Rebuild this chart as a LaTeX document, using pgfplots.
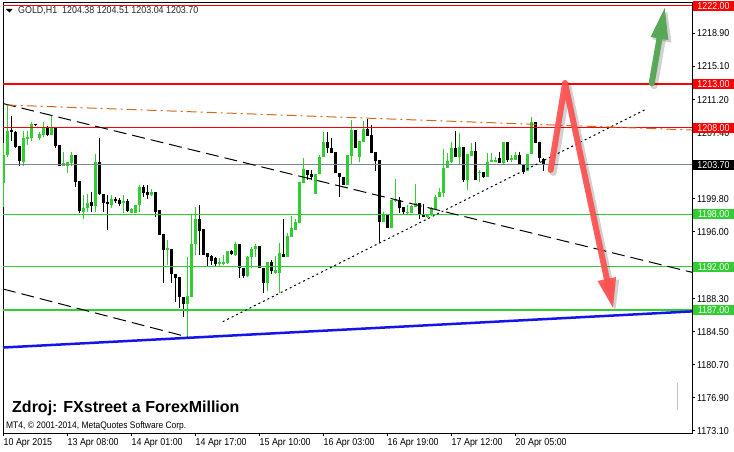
\documentclass[border=0pt]{standalone}
\usepackage{pgfplots}
\pgfplotsset{compat=1.18}
\usepackage{pgfplotstable}
\usepackage{fontspec}
\setmainfont{Liberation Sans}
\newfontfamily\mtfont{Liberation Sans}[FakeStretch=0.89]
\usetikzlibrary{arrows.meta}
\definecolor{mtgreen}{RGB}{50,205,50}
\definecolor{mtgray}{RGB}{119,136,153}
\definecolor{mtorange}{RGB}{210,105,30}
\definecolor{mtblue}{RGB}{20,20,235}
\definecolor{arrowred}{RGB}{255,80,80}
\definecolor{arrowgreen}{RGB}{88,168,88}
\definecolor{faint}{RGB}{176,196,222}

% bullish candles: k open high low close
\pgfplotstableread{
k o h l c
0 1201.63 1206.23 1198.87 1204.85
1 1204.85 1210.60 1204.62 1207.61
5 1204.05 1207.61 1203.59 1206.81
6 1206.69 1207.61 1206.00 1206.92
7 1206.81 1208.65 1206.46 1208.42
9 1206.81 1207.50 1206.58 1207.27
10 1207.15 1208.65 1206.92 1207.96
12 1207.15 1209.45 1207.15 1207.96
15 1203.59 1205.20 1203.59 1203.93
16 1203.59 1204.05 1202.78 1204.05
17 1203.93 1205.20 1203.59 1204.85
20 1198.30 1200.25 1197.49 1198.76
21 1198.76 1200.37 1198.30 1199.33
23 1198.99 1204.97 1198.30 1204.05
27 1199.10 1200.25 1198.76 1199.79
30 1199.33 1200.25 1198.18 1199.56
32 1198.18 1198.76 1198.18 1198.64
33 1198.18 1199.10 1198.18 1199.10
34 1199.10 1201.40 1198.30 1201.17
37 1200.25 1200.94 1200.14 1200.60
41 1193.93 1195.08 1192.20 1194.16
46 1187.71 1193.12 1183.90 1188.63
47 1188.52 1197.95 1188.52 1194.62
48 1194.62 1198.87 1193.35 1197.49
54 1192.32 1193.01 1191.97 1192.55
55 1192.32 1193.35 1192.20 1192.55
56 1192.43 1193.81 1192.32 1193.81
58 1193.35 1194.85 1193.24 1194.62
61 1190.94 1193.24 1190.82 1193.12
62 1193.12 1194.27 1191.86 1194.04
63 1194.04 1194.62 1193.12 1194.39
66 1190.13 1192.55 1189.21 1192.55
68 1191.28 1193.24 1191.17 1191.63
69 1191.28 1194.73 1188.98 1193.58
71 1193.12 1195.88 1193.12 1195.54
72 1195.42 1197.84 1195.42 1196.46
73 1196.23 1197.49 1196.23 1197.15
74 1197.03 1201.75 1197.03 1201.75
75 1201.63 1204.51 1201.63 1203.24
78 1200.37 1202.67 1200.37 1202.67
79 1202.67 1204.85 1202.67 1204.62
80 1204.62 1207.50 1204.62 1206.35
86 1201.40 1204.85 1201.40 1204.85
87 1204.74 1208.88 1203.82 1207.73
89 1204.62 1206.46 1204.05 1206.46
90 1206.35 1208.76 1206.35 1207.84
95 1197.15 1198.30 1197.15 1197.95
97 1196.46 1199.68 1196.46 1199.68
98 1199.56 1202.09 1199.45 1199.79
101 1198.18 1199.10 1197.95 1198.30
102 1198.18 1199.10 1198.18 1198.99
103 1198.87 1201.52 1198.87 1199.33
106 1197.72 1197.95 1197.61 1197.95
107 1197.95 1198.87 1197.84 1198.76
108 1198.64 1200.25 1198.64 1200.02
109 1200.02 1201.06 1200.02 1200.60
110 1200.48 1205.54 1200.02 1203.36
111 1203.36 1205.08 1203.36 1204.16
112 1204.05 1206.35 1203.93 1205.66
114 1204.62 1207.38 1203.70 1205.77
116 1201.98 1204.97 1200.83 1204.97
117 1204.74 1206.23 1204.74 1205.31
119 1202.78 1203.13 1201.75 1202.90
121 1202.32 1205.08 1202.32 1204.05
122 1204.05 1205.08 1204.05 1204.28
123 1204.05 1204.62 1204.05 1204.28
125 1203.93 1206.35 1203.70 1206.35
127 1204.28 1204.85 1204.05 1204.51
128 1204.28 1205.20 1204.28 1204.85
131 1203.01 1204.97 1203.01 1204.97
132 1204.97 1209.22 1204.97 1208.65
}\bull

% bearish candles: k open high low close
\pgfplotstableread{
k o h l c
2 1207.73 1209.34 1206.46 1207.50
3 1207.50 1207.61 1205.66 1205.77
4 1205.89 1205.89 1203.59 1204.16
8 1208.42 1208.42 1208.19 1208.30
11 1207.96 1208.19 1207.04 1207.15
13 1207.96 1207.96 1205.66 1205.89
14 1206.00 1206.00 1203.59 1203.59
18 1204.85 1204.85 1201.17 1201.75
19 1201.86 1201.86 1198.18 1198.41
22 1199.45 1200.60 1198.30 1198.99
24 1204.05 1206.81 1200.25 1200.37
25 1200.37 1200.37 1198.30 1199.33
26 1199.45 1200.25 1196.23 1199.22
28 1199.79 1200.02 1199.33 1199.56
29 1199.68 1199.91 1198.99 1199.22
31 1199.56 1199.79 1198.30 1198.41
35 1201.17 1201.40 1200.02 1200.48
36 1200.60 1201.40 1199.79 1200.25
38 1200.60 1200.60 1197.72 1198.30
39 1198.53 1198.53 1195.65 1195.65
40 1195.77 1195.77 1190.13 1193.93
42 1194.04 1194.04 1190.13 1191.17
43 1191.17 1191.17 1187.94 1190.71
44 1190.82 1190.82 1187.25 1188.52
45 1188.52 1188.52 1186.22 1187.71
49 1197.49 1199.10 1193.35 1196.11
50 1196.34 1196.34 1193.35 1193.35
51 1193.58 1193.58 1191.97 1193.12
52 1193.24 1193.35 1192.20 1192.66
53 1193.01 1193.12 1191.97 1192.32
57 1193.81 1193.93 1193.35 1193.47
59 1194.62 1194.62 1190.71 1191.86
60 1191.86 1191.86 1190.71 1190.94
64 1194.39 1194.39 1191.86 1191.86
65 1191.86 1191.86 1188.98 1190.13
67 1192.55 1192.78 1191.17 1191.51
70 1193.47 1197.49 1193.12 1193.12
76 1203.13 1203.13 1201.98 1202.55
77 1202.67 1203.13 1201.98 1202.32
81 1206.35 1207.50 1205.08 1205.66
82 1205.66 1206.81 1205.08 1205.08
83 1205.20 1205.20 1202.78 1202.78
84 1202.78 1202.78 1200.02 1202.32
85 1202.32 1202.32 1201.40 1201.40
88 1207.73 1207.73 1205.66 1205.66
91 1207.84 1208.99 1207.04 1207.04
92 1207.15 1208.30 1205.08 1205.08
93 1205.20 1205.20 1203.01 1204.16
94 1204.28 1204.28 1194.73 1197.15
96 1197.95 1197.95 1196.46 1196.46
99 1199.68 1200.02 1198.18 1198.76
100 1198.87 1198.87 1197.95 1198.30
104 1199.33 1199.33 1197.49 1197.95
105 1198.07 1199.22 1197.72 1197.72
113 1205.66 1207.61 1204.62 1204.62
115 1205.77 1205.77 1201.75 1201.98
118 1205.31 1206.35 1201.98 1201.98
120 1202.90 1202.90 1202.21 1202.32
124 1204.51 1205.20 1203.93 1203.93
126 1206.35 1206.35 1204.05 1204.28
129 1204.85 1205.20 1203.70 1203.70
130 1203.70 1203.70 1202.67 1202.90
133 1208.65 1208.65 1206.23 1206.23
134 1206.35 1206.35 1204.05 1204.51
135 1204.38 1204.51 1203.04 1203.70
}\bear

\tikzset{pricebox/.style={anchor=west, text=white, font=\mtfont\fontsize{10}{12}\selectfont,
  minimum width=41.3pt, minimum height=10pt, inner sep=0pt}}

\begin{document}
\begin{tikzpicture}
\path[use as bounding box] (-3pt,-18pt) rectangle (731pt,433pt);
\begin{axis}[
  at={(0pt,0pt)}, anchor=south west,
  scale only axis, width=689pt, height=431pt,
  xmin=-0.125, xmax=172.125, ymin=1172.84, ymax=1222.46,
  axis line style={line width=0.8pt, black},
  tick align=outside, major tick length=3pt,
  tick style={black, line width=0.8pt},
  xtick pos=left, ytick pos=right, yticklabel pos=right,
  xtick={0,16,32,48,64,80,96,112,128},
  xticklabels={10 Apr 2015,13 Apr 08:00,14 Apr 01:00,14 Apr 17:00,15 Apr 10:00,16 Apr 03:00,16 Apr 19:00,17 Apr 12:00,20 Apr 05:00},
  ytick={1173.1,1176.9,1180.7,1184.5,1188.3,1192.1,1196.0,1199.8,1203.6,1207.4,1211.2,1215.1,1218.9},
  yticklabels={1173.10,1176.90,1180.70,1184.50,1188.30,1192.10,1196.00,1199.80,1203.60,1207.40,1211.20,1215.10,1218.90},
  tick label style={font=\mtfont\fontsize{10}{12}\selectfont, text=black},
  xticklabel style={anchor=north west, inner sep=0pt, yshift=-2pt},
  yticklabel style={anchor=west, inner sep=0pt, xshift=2pt},
  /pgf/number format/assume math mode=true,
  candle/.style={draw=none, mark=none, error bars/.cd, y dir=minus, y explicit, error mark=none},
]
% wicks
\addplot[candle, error bar style={draw=mtgreen, line width=1pt}]
  table[x=k, y=h, y error minus expr=\thisrow{h}-\thisrow{l}] {\bull};
\addplot[candle, error bar style={draw=black, line width=1pt}]
  table[x=k, y=h, y error minus expr=\thisrow{h}-\thisrow{l}] {\bear};
% bodies
\addplot[candle, error bar style={draw=mtgreen, line width=3pt}]
  table[x=k, y=c, y error minus expr={max(\thisrow{c}-\thisrow{o},0.11)}] {\bull};
\addplot[candle, error bar style={draw=black, line width=3pt}]
  table[x=k, y=o, y error minus expr={max(\thisrow{o}-\thisrow{c},0.11)}] {\bear};

% horizontal levels
\addplot[red, line width=1pt] coordinates {(-0.125,1222) (172.125,1222)};
\addplot[red, line width=2pt] coordinates {(-0.125,1213) (172.125,1213)};
\addplot[red, line width=1pt] coordinates {(-0.125,1208) (172.125,1208)};
\addplot[mtgray, line width=1pt] coordinates {(-0.125,1203.70) (172.125,1203.70)};
\addplot[mtgreen, line width=1pt] coordinates {(-0.125,1198) (172.125,1198)};
\addplot[mtgreen, line width=1pt] coordinates {(-0.125,1192) (172.125,1192)};
\addplot[mtgreen, line width=2.2pt] coordinates {(-0.125,1187) (172.125,1187)};
% trend lines
\addplot[mtblue, line width=2.5pt] coordinates {(-0.125,1182.68) (172.125,1186.84)};
\addplot[black, line width=1pt, dash pattern=on 13pt off 6pt] coordinates {(-0.125,1210.77) (172.125,1191.34)};
\addplot[black, line width=1pt, dash pattern=on 13pt off 6pt] coordinates {(-0.125,1189.42) (46,1183.90)};
\addplot[black, line width=1pt, dash pattern=on 2pt off 3pt] coordinates {(54.8,1185.65) (160.6,1210.11)};
\addplot[mtorange, line width=1pt, dash pattern=on 10pt off 4pt on 2pt off 4pt] coordinates {(0.8,1210.60) (172.125,1207.72)};

% arrows
\addplot[black, opacity=0.18, line width=7pt, line join=round, line cap=round, xshift=2.5pt, yshift=-2.5pt,
  -{Triangle[length=31pt,width=18pt]}] coordinates {(136.8,1203.12) (140.4,1213.13) (152.45,1187.08)};
\addplot[arrowred, opacity=0.92, line width=6pt, line join=round, line cap=round,
  -{Triangle[length=31pt,width=17pt]}] coordinates {(136.8,1203.12) (140.4,1213.13) (152.45,1187.08)};
\addplot[black, opacity=0.18, line width=7pt, line cap=round, xshift=2.5pt, yshift=-2.5pt,
  -{Triangle[length=33pt,width=17pt]}] coordinates {(162.05,1213.1) (165.4,1222.0)};
\addplot[arrowgreen, line width=6pt, line cap=round,
  -{Triangle[length=33pt,width=16pt]}] coordinates {(162.05,1213.1) (165.4,1222.0)};

\coordinate (p1222) at (axis cs:172.125,1222);
\coordinate (p1213) at (axis cs:172.125,1213);
\coordinate (p1208) at (axis cs:172.125,1208);
\coordinate (p1203) at (axis cs:172.125,1203.70);
\coordinate (p1198) at (axis cs:172.125,1198);
\coordinate (p1192) at (axis cs:172.125,1192);
\coordinate (p1187) at (axis cs:172.125,1187);
\end{axis}
\node[pricebox, fill=red] at ([xshift=0.7pt]p1222) {1222.00};
\node[pricebox, fill=red] at ([xshift=0.7pt]p1213) {1213.00};
\node[pricebox, fill=red] at ([xshift=0.7pt]p1208) {1208.00};
\node[pricebox, fill=black] at ([xshift=0.7pt]p1203) {1203.70};
\node[pricebox, fill=mtgreen] at ([xshift=0.7pt]p1198) {1198.00};
\node[pricebox, fill=mtgreen] at ([xshift=0.7pt]p1192) {1192.00};
\node[pricebox, fill=mtgreen] at ([xshift=0.7pt]p1187) {1187.00};
% header
\fill[black] (3pt,424pt) -- (9.7pt,424pt) -- (6.35pt,420.5pt) -- cycle;
\node[anchor=base west, inner sep=0pt, font=\mtfont\fontsize{10}{12}\selectfont, text=black!85]
  at (15pt,419.5pt) {GOLD,H1\ \ 1204.38 1204.51 1203.04 1203.70};
% source texts
\node[anchor=base west, inner sep=0pt, font=\bfseries\fontsize{16}{19}\selectfont]
  at (9pt,20.5pt) {Zdroj: FXstreet a ForexMillion};
\node[anchor=base west, inner sep=0pt, font=\mtfont\fontsize{9.5}{11}\selectfont]
  at (3pt,5pt) {MT4, © 2001-2014, MetaQuotes Software Corp.};
\draw[faint, line width=1pt] (674pt,23pt) -- (674pt,50pt);
\end{tikzpicture}
\end{document}
